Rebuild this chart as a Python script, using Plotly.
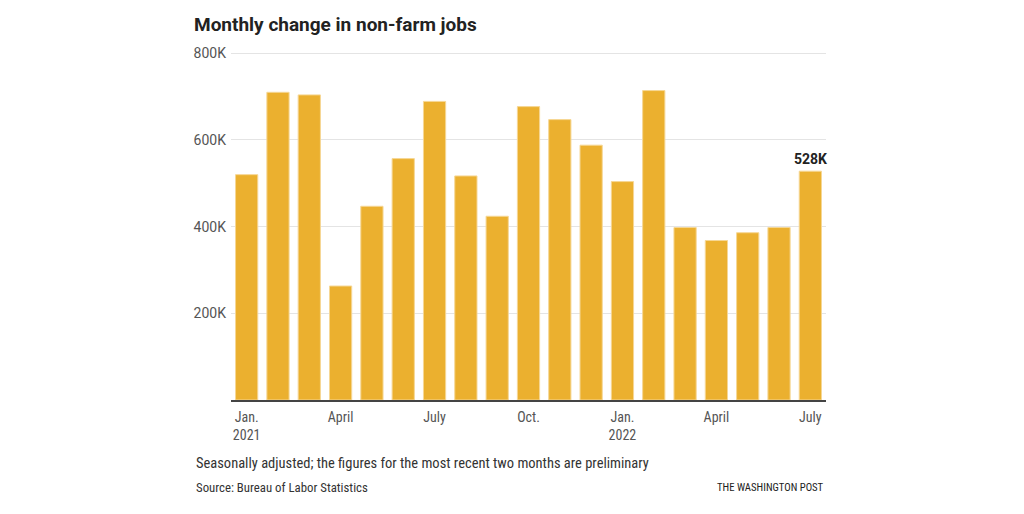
import plotly.graph_objects as go

# Monthly change in non-farm payrolls, thousands (BLS, seasonally adjusted)
months = [
    "2021-01", "2021-02", "2021-03", "2021-04", "2021-05", "2021-06",
    "2021-07", "2021-08", "2021-09", "2021-10", "2021-11", "2021-12",
    "2022-01", "2022-02", "2022-03", "2022-04", "2022-05", "2022-06",
    "2022-07",
]
jobs_k = [520, 710, 704, 263, 447, 557, 689, 517, 424, 677, 647, 588,
          504, 714, 398, 368, 386, 398, 528]

tick_months = ["2021-01", "2021-04", "2021-07", "2021-10",
               "2022-01", "2022-04", "2022-07"]
tick_labels = ["Jan.<br>2021", "April", "July", "Oct.",
               "Jan.<br>2022", "April", "July"]

y_ticks = [200, 400, 600, 800]
y_labels = ["200K", "400K", "600K", "800K"]

BAR = "#ebb02f"
TEXT = "#333333"
AXIS_TXT = "#555555"
NARROW = "Liberation Sans Narrow, Roboto Condensed, Roboto, sans-serif"

# page body has an 8px margin, so the figure sits 8px right/down
OFF = 8

fig = go.Figure()
fig.add_trace(go.Bar(
    x=months, y=jobs_k,
    marker=dict(color=BAR, line=dict(color="#f6d795", width=1)),
    hoverinfo="x+y",
    showlegend=False,
))

fig.update_layout(
    width=1024, height=514,
    margin=dict(l=231 - OFF, r=198 + OFF, t=52 - OFF, b=114 + OFF),
    paper_bgcolor="white",
    plot_bgcolor="white",
    bargap=0.29,
    font=dict(family="Roboto, Liberation Sans, sans-serif", color=TEXT),
    title=dict(
        text="<b>Monthly change in non-farm jobs</b>",
        x=(194 - OFF) / 1024, xref="container", xanchor="left",
        y=1 - (24 - OFF) / 514, yref="container", yanchor="middle",
        font=dict(size=19, color="#222222", family="Roboto, sans-serif"),
    ),
    xaxis=dict(
        type="category",
        categoryorder="array", categoryarray=months,
        range=[-0.5, len(months) - 0.5],
        tickvals=tick_months, ticktext=tick_labels,
        tickfont=dict(size=14, color=AXIS_TXT, family=NARROW),
        showgrid=False,
        showline=True, linecolor="#444444", linewidth=1.5,
        ticks="", ticklabelstandoff=3,
        fixedrange=True,
    ),
    yaxis=dict(
        range=[0, 803],
        tickvals=y_ticks, ticktext=y_labels,
        tickfont=dict(size=14, color=AXIS_TXT),
        showgrid=True, gridcolor="#e4e4e4", gridwidth=1,
        zeroline=False,
        ticks="", ticklabelposition="outside left",
        ticklabelstandoff=4,
        fixedrange=True,
    ),
)

# label on latest month
fig.add_annotation(
    x=months[-1], y=jobs_k[-1],
    text="<b>%dK</b>" % jobs_k[-1],
    showarrow=False, yanchor="bottom", yshift=2,
    font=dict(size=14, color="#222222"),
)

fig.add_annotation(
    xref="paper", yref="paper",
    x=(194 - 231) / 595, y=-(463 - 400) / 348,
    text="Seasonally adjusted; the figures for the most recent two months are preliminary",
    showarrow=False, xanchor="left", yanchor="middle",
    font=dict(size=14.5, color=TEXT, family=NARROW),
)
fig.add_annotation(
    xref="paper", yref="paper",
    x=(194 - 231) / 595, y=-(488 - 400) / 348,
    text="Source: Bureau of Labor Statistics",
    showarrow=False, xanchor="left", yanchor="middle",
    font=dict(size=12.8, color=TEXT, family=NARROW),
)
fig.add_annotation(
    xref="paper", yref="paper",
    x=1.0, y=-(488 - 400) / 348,
    text="THE WASHINGTON POST",
    showarrow=False, xanchor="right", yanchor="middle",
    font=dict(size=10.7, color="#222222", family=NARROW),
)

fig.write_html("out.html")
